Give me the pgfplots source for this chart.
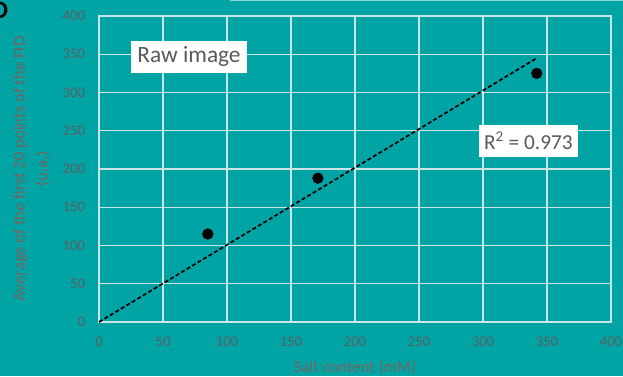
\documentclass[border=0pt]{standalone}
\usepackage{pgfplots}
\pgfplotsset{compat=1.18}
\usepackage{fontspec}
\setmainfont{Carlito}
\definecolor{bg}{RGB}{0,164,164}
\definecolor{gridc}{RGB}{205,228,228}
\definecolor{tickc}{RGB}{90,96,96}
\definecolor{labc}{RGB}{115,102,96}
\definecolor{boxtext}{RGB}{89,89,89}
\begin{document}
\begin{tikzpicture}
\useasboundingbox (-74.25pt,-40.5pt) rectangle ++(467.25pt,282pt);
\fill[bg] (-74.25pt,-40.5pt) rectangle ++(467.25pt,282pt);
\draw[color=gridc!70!bg, line width=0.8pt] (98.25pt,241pt) -- (393pt,241pt);
\node[anchor=east, font=\fontsize{19}{19}\selectfont\bfseries, text=black, inner sep=0pt] at (-68pt,233.5pt) {D};
\begin{axis}[
  at={(0pt,0pt)}, anchor=south west,
  scale only axis,
  width=384pt, height=229.5pt,
  xmin=0, xmax=400, ymin=0, ymax=400,
  xtick={0,50,...,400}, ytick={0,50,...,400},
  grid=major,
  major grid style={color=gridc, line width=1pt},
  axis line style={color=gridc, line width=1pt},
  tick style={draw=none},
  ticklabel style={font=\fontsize{11}{13}\selectfont, text=tickc},
  /pgf/number format/assume math mode=true,
  xticklabel style={yshift=-8pt},
  yticklabel style={xshift=-7pt},
  xlabel={Salt content (mM)},
  ylabel={Average of the first 20 points of the FID\\(u.a.)},
  ylabel style={at={(axis description cs:-0.132,0.5)}, anchor=center, align=center, font=\fontsize{12.5}{17}\selectfont, text=labc},
  xlabel style={at={(axis description cs:0.5,0)}, anchor=center, yshift=-34.5pt, font=\fontsize{12.5}{14}\selectfont, text=labc},
  clip=false,
]
\addplot[black, line width=1.3pt, dash pattern=on 3pt off 1.8pt] coordinates {(0,0) (342,345)};
\addplot[only marks, mark=*, mark size=4pt, black] coordinates {(85,115) (171,188) (342,325)};
\node[fill=white, text=boxtext, font=\fontsize{17.5}{17.5}\selectfont, inner xsep=5pt, inner ysep=4.5pt] at (axis cs:70.3,347) {Raw image};
\node[fill=white, text=boxtext, font=\fontsize{16}{16}\selectfont, inner xsep=4pt, inner ysep=5pt] at (axis cs:335.5,236.6) {R\textsuperscript{2} = 0.973};
\end{axis}
\end{tikzpicture}
\end{document}
